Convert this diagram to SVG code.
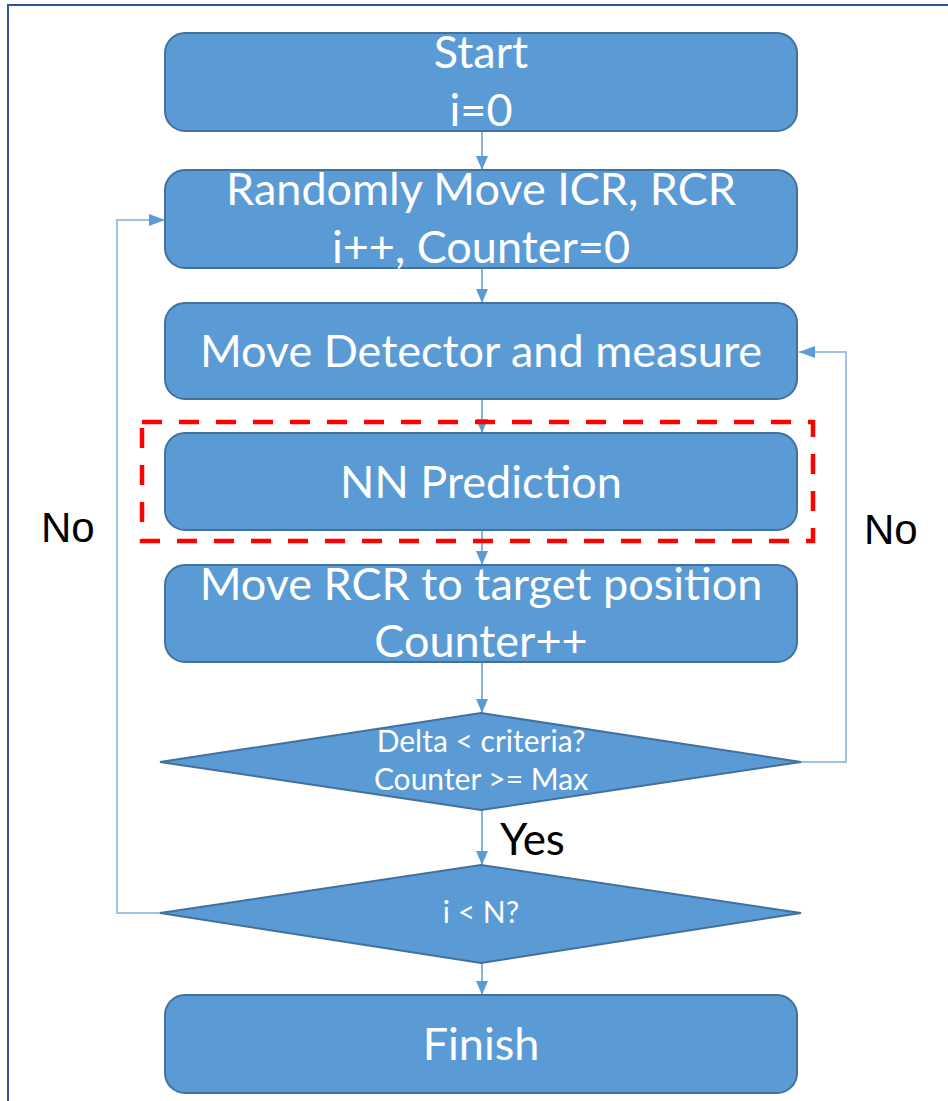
<svg xmlns="http://www.w3.org/2000/svg" width="948" height="1101" viewBox="0 0 948 1101">
  <defs>
    <marker id="arrow" viewBox="0 0 14 12" refX="14" refY="6" markerWidth="14" markerHeight="12" markerUnits="userSpaceOnUse" orient="auto">
      <path d="M0,0 L14,6 L0,12 Z" fill="#5B9BD5"/>
    </marker>
    <marker id="arrowLoop" viewBox="0 0 16 12" refX="16" refY="6" markerWidth="16" markerHeight="12" markerUnits="userSpaceOnUse" orient="auto">
      <path d="M0,0 L16,6 L0,12 Z" fill="#5B9BD5"/>
    </marker>
  </defs>
  <style>
    .box { fill: #5B9BD5; stroke: #41719C; stroke-width: 2; }
    .lbl { font-family: Lato, "Open Sans", sans-serif; fill: #FFFFFF; text-anchor: middle; }
    .big { font-size: 45px; }
    .small { font-size: 30px; }
    .flow { fill: none; stroke: #5B9BD5; stroke-width: 1.5; }
    .loop { fill: none; stroke: #9DC3E6; stroke-width: 2; }
    .note { font-family: "Liberation Sans", Arial, sans-serif; font-size: 42px; fill: #000000; }
  </style>

  <rect width="948" height="1101" fill="#FFFFFF"/>
  <!-- outer frame -->
  <rect x="8" y="5" width="960" height="1120" fill="none" stroke="#2F5597" stroke-width="2"/>

  <!-- connectors -->
  <g id="connectors">
    <line class="flow" x1="482" y1="131" x2="482" y2="170" marker-end="url(#arrow)"/>
    <line class="flow" x1="482" y1="268" x2="482" y2="303" marker-end="url(#arrow)"/>
    <line class="flow" x1="482" y1="399" x2="482" y2="433" marker-end="url(#arrow)"/>
    <line class="flow" x1="482" y1="530" x2="482" y2="565" marker-end="url(#arrow)"/>
    <line class="flow" x1="482" y1="662" x2="482" y2="713" marker-end="url(#arrow)"/>
    <line class="flow" x1="482" y1="810" x2="482" y2="865" marker-end="url(#arrow)"/>
    <line class="flow" x1="482" y1="963" x2="482" y2="995" marker-end="url(#arrow)"/>
    <!-- No branch from the first decision back to the measurement step -->
    <polyline class="loop" points="801,762 846,762 846,352 799,352" marker-end="url(#arrowLoop)"/>
    <!-- No branch from the loop counter back to the random move -->
    <polyline class="loop" points="160,913 117,913 117,220 165,220" marker-end="url(#arrowLoop)"/>
  </g>

  <g id="start">
    <rect class="box" x="165" y="33" width="632" height="98" rx="20"/>
    <text class="lbl big" x="481" y="68">Start</text>
    <text class="lbl big" x="481" y="126">i=0</text>
  </g>

  <g id="random-move">
    <rect class="box" x="165" y="170" width="632" height="98" rx="20"/>
    <text class="lbl big" x="481" y="205">Randomly Move ICR, RCR</text>
    <text class="lbl big" x="481" y="263">i++, Counter=0</text>
  </g>

  <g id="measure">
    <rect class="box" x="165" y="303" width="632" height="96" rx="20"/>
    <text class="lbl big" x="481" y="367">Move Detector and measure</text>
  </g>

  <g id="nn-prediction">
    <rect class="box" x="165" y="433" width="632" height="97" rx="20"/>
    <text class="lbl big" x="481" y="498">NN Prediction</text>
  </g>

  <!-- highlight around the prediction step -->
  <rect id="highlight" x="142" y="422" width="671" height="119" fill="none" stroke="#FF0000" stroke-width="4.5" stroke-dasharray="20 17"/>

  <g id="move-rcr">
    <rect class="box" x="165" y="565" width="632" height="97" rx="20"/>
    <text class="lbl big" x="481" y="600">Move RCR to target position</text>
    <text class="lbl big" x="481" y="657">Counter++</text>
  </g>

  <g id="check-delta">
    <polygon class="box" points="481,713 801,762 481,810 160,762"/>
    <text class="lbl small" x="481" y="752">Delta &lt; criteria?</text>
    <text class="lbl small" x="481" y="790">Counter &gt;= Max</text>
  </g>

  <g id="check-i">
    <polygon class="box" points="481,865 801,913 481,963 160,913"/>
    <text class="lbl small" x="481" y="923">i &lt; N?</text>
  </g>

  <g id="finish">
    <rect class="box" x="165" y="995" width="632" height="98" rx="20"/>
    <text class="lbl big" x="481" y="1060">Finish</text>
  </g>

  <g id="labels">
    <text class="note" x="41" y="542">No</text>
    <text class="note" x="864" y="544">No</text>
    <text x="500" y="855" style="font-family: Lato, 'Open Sans', sans-serif; font-size: 44px; fill: #000000;">Yes</text>
  </g>
</svg>
